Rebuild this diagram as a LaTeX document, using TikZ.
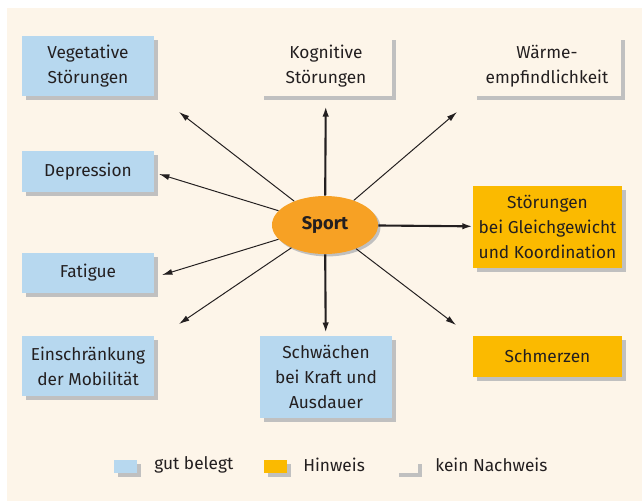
\documentclass[tikz,border=0pt]{standalone}
\usepackage{fontspec}
\setmainfont{Fira Sans}
\usetikzlibrary{arrows.meta, shapes.geometric, shadows}
\definecolor{panelCream}{RGB}{253, 245, 233}
\definecolor{gutBlue}{RGB}{183, 216, 239}
\definecolor{hinweisOrange}{RGB}{251, 186, 0}
\definecolor{sportOrange}{RGB}{247, 161, 36}
\definecolor{shadowGray}{RGB}{192, 192, 192}
\definecolor{textDark}{RGB}{35, 31, 32}

\begin{document}
\begin{tikzpicture}[
        x=0.025cm,
        y=-0.025cm,
        labelFont/.style={font=\fontsize{12.3}{17.8}\selectfont, text=textDark},
        befundBase/.style={
            labelFont,
            rectangle,
            draw=none,
            align=center,
            inner sep=0pt,
            minimum width=3.3cm,
            general shadow={fill=shadowGray, shadow xshift=0.1cm, shadow yshift=-0.1cm}
        },
        befundBlue/.style={befundBase, fill=gutBlue},
        befundOrange/.style={befundBase, fill=hinweisOrange},
        befundPlain/.style={befundBase, fill=panelCream},
        keyBase/.style={rectangle, inner sep=0pt, minimum width=0.575cm, minimum height=0.325cm,
            general shadow={fill=shadowGray, shadow xshift=0.1cm, shadow yshift=-0.1cm}},
        thinArrow/.style={line width=0.7pt, -{Latex[length=2.6mm, width=1.5mm]}, textDark},
        thickArrow/.style={line width=1.5pt, -{Latex[length=2.6mm, width=1.6mm]}, textDark}
    ]
        \useasboundingbox (0,0) rectangle (642,501);
        \fill[panelCream] (7,8) rectangle (642,501);

        % left column
        \node[befundBlue, minimum height=1.5cm] (vegetativ) at (88,66)
            {Vegetative\\Störungen};
        \node[befundBlue, minimum height=1.025cm] (depression) at (88,171.5)
            {Depression};
        \node[befundBlue, minimum height=1cm] (fatigue) at (88,273)
            {Fatigue};
        \node[befundBlue, minimum height=1.5cm] (mobilitaet) at (88,366)
            {Einschränkung\\der Mobilität};

        % middle column
        \node[befundPlain, minimum height=1.5cm] (kognitiv) at (326,66)
            {Kognitive\\Störungen};
        \node[befundBlue, minimum height=2.05cm] (kraft) at (326,377)
            {Schwächen\\bei Kraft und\\Ausdauer};

        % right column
        \node[befundPlain, minimum width=3.7cm, minimum height=1.5cm] (waerme) at (547,66)
            {Wärme-\\empfindlichkeit};
        \node[befundOrange, minimum width=3.725cm, minimum height=2.05cm] (gleichgewicht) at (547.5,227)
            {Störungen\\bei Gleichgewicht\\und Koordination};
        \node[befundOrange, minimum width=3.725cm, minimum height=1.025cm] (schmerz) at (547.5,356.5)
            {Schmerzen};

        % centre
        \node[ellipse, fill=sportOrange, minimum width=2.65cm, minimum height=1.45cm, inner sep=0pt,
            general shadow={fill=shadowGray, shadow xshift=0.06cm, shadow yshift=-0.06cm},
            font=\fontsize{13}{15}\selectfont\bfseries, text=textDark] (sport) at (325,225) {Sport};

        % free arrow ends
        \coordinate (toVegetativ) at (179,112);
        \coordinate (toDepression) at (159,174);
        \coordinate (toFatigue) at (162,275);
        \coordinate (toMobilitaet) at (179,324);
        \coordinate (toWaerme) at (457,112);
        \coordinate (toSchmerz) at (456,325);

        \draw[thickArrow, shorten >=7pt] (sport) -- (kognitiv);
        \draw[thickArrow] (sport) -- (gleichgewicht);
        \draw[thickArrow, shorten >=2pt] (sport) -- (kraft);
        \foreach \target in {toVegetativ, toDepression, toFatigue, toMobilitaet, toWaerme, toSchmerz}
            \draw[thinArrow] (sport) -- (\target);

        % legend
        \node[keyBase, fill=gutBlue] (keyGut) at (125.5,466.5) {};
        \node[labelFont, anchor=west, inner sep=0pt] (keyGutText) at (154,465) {gut belegt};
        \node[keyBase, fill=hinweisOrange] (keyHinweis) at (275.5,466.5) {};
        \node[labelFont, anchor=west, inner sep=0pt] (keyHinweisText) at (303,465) {Hinweis};
        \node[keyBase, fill=panelCream] (keyKein) at (406.5,466.5) {};
        \node[labelFont, anchor=west, inner sep=0pt] (keyKeinText) at (435,465) {kein Nachweis};
    \end{tikzpicture}
\end{document}
